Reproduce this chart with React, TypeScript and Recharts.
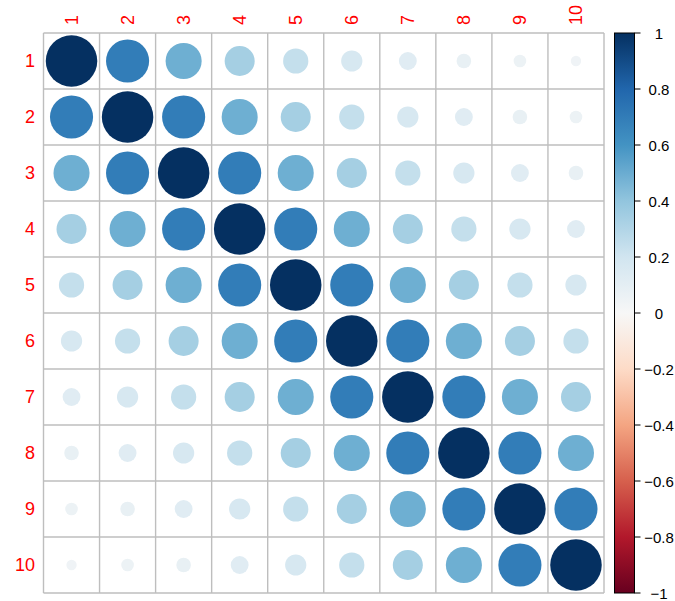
import React from 'react'
import {
  ScatterChart,
  Scatter,
  XAxis,
  YAxis,
  ReferenceLine,
} from 'recharts'

// variable names (rows and columns)
const variables = ['1', '2', '3', '4', '5', '6', '7', '8', '9', '10']

// correlation matrix
const corrRows: number[][] = [
  [1.0, 0.7, 0.49, 0.34, 0.24, 0.17, 0.12, 0.08, 0.06, 0.04],
  [0.7, 1.0, 0.7, 0.49, 0.34, 0.24, 0.17, 0.12, 0.08, 0.06],
  [0.49, 0.7, 1.0, 0.7, 0.49, 0.34, 0.24, 0.17, 0.12, 0.08],
  [0.34, 0.49, 0.7, 1.0, 0.7, 0.49, 0.34, 0.24, 0.17, 0.12],
  [0.24, 0.34, 0.49, 0.7, 1.0, 0.7, 0.49, 0.34, 0.24, 0.17],
  [0.17, 0.24, 0.34, 0.49, 0.7, 1.0, 0.7, 0.49, 0.34, 0.24],
  [0.12, 0.17, 0.24, 0.34, 0.49, 0.7, 1.0, 0.7, 0.49, 0.34],
  [0.08, 0.12, 0.17, 0.24, 0.34, 0.49, 0.7, 1.0, 0.7, 0.49],
  [0.06, 0.08, 0.12, 0.17, 0.24, 0.34, 0.49, 0.7, 1.0, 0.7],
  [0.04, 0.06, 0.08, 0.12, 0.17, 0.24, 0.34, 0.49, 0.7, 1.0],
]

const legendTicks = [1, 0.8, 0.6, 0.4, 0.2, 0, -0.2, -0.4, -0.6, -0.8, -1]

// RdBu palette from -1 to 1
const rdbu = [
  '#67001F', '#B2182B', '#D6604D', '#F4A582', '#FDDBC7', '#F7F7F7',
  '#D1E5F0', '#92C5DE', '#4393C3', '#2166AC', '#053061',
]

const W = 675
const H = 601
const left = 43.5
const top = 33
const right = 604
const bottom = 593
const cell = (bottom - top) / variables.length

const boundaries = Array.from({ length: variables.length + 1 }, (_, i) => i + 0.5)

const data = corrRows.flatMap((row, i) =>
  row.map((r, j) => ({ x: j + 1, y: i + 1, r }))
)

function hexToRgb(h: string) {
  const n = parseInt(h.slice(1), 16)
  return [(n >> 16) & 255, (n >> 8) & 255, n & 255]
}

function colorFor(v: number) {
  const t = ((v + 1) / 2) * (rdbu.length - 1)
  const i = Math.min(Math.floor(t), rdbu.length - 2)
  const f = t - i
  const a = hexToRgb(rdbu[i])
  const b = hexToRgb(rdbu[i + 1])
  const c = a.map((x, k) => Math.round(x + (b[k] - x) * f))
  return `rgb(${c[0]},${c[1]},${c[2]})`
}

const fmt = (v: number) => {
  const s = Math.abs(v) < 1e-9 ? '0' : String(Math.abs(v))
  return v < -1e-9 ? '\u2212' + s : s
}

const CircleShape = (props: any) => {
  const { cx, cy, payload } = props
  if (cx == null || cy == null) return null
  const rad = Math.sqrt(Math.abs(payload.r)) * 0.46 * cell
  return <circle cx={cx} cy={cy} r={rad} fill={colorFor(payload.r)} />
}

const TopTick = (props: any) => {
  const { x, payload } = props
  const y = 25
  return (
    <text
      x={x}
      y={y}
      transform={`rotate(-90, ${x}, ${y})`}
      textAnchor="start"
      dominantBaseline="central"
      fill="#ff0000"
      fontSize={18}
      fontFamily="Liberation Sans, Arial, sans-serif"
    >
      {variables[payload.value - 1]}
    </text>
  )
}

const LeftTick = (props: any) => {
  const { y, payload } = props
  return (
    <text
      x={35}
      y={y}
      textAnchor="end"
      dominantBaseline="central"
      fill="#ff0000"
      fontSize={18}
      fontFamily="Liberation Sans, Arial, sans-serif"
    >
      {variables[payload.value - 1]}
    </text>
  )
}

function ColorLegend() {
  const x0 = 614.5
  const x1 = 634.5
  const scale = (v: number) => top + ((1 - v) / 2) * (bottom - top)
  return (
    <svg
      width={W}
      height={H}
      style={{ position: 'absolute', left: 0, top: 0, pointerEvents: 'none' }}
    >
      <defs>
        <linearGradient id="rdbu" x1="0" y1="1" x2="0" y2="0">
          {rdbu.map((c, i) => (
            <stop key={i} offset={`${(i / (rdbu.length - 1)) * 100}%`} stopColor={c} />
          ))}
        </linearGradient>
      </defs>
      <rect
        x={x0}
        y={top}
        width={x1 - x0}
        height={bottom - top}
        fill="url(#rdbu)"
        stroke="#000"
        strokeWidth={1}
      />
      {legendTicks.map((v) => (
        <g key={v}>
          <line x1={x1} x2={x1 + 6} y1={scale(v)} y2={scale(v)} stroke="#000" strokeWidth={1} />
          <text
            x={659}
            y={scale(v)}
            textAnchor="middle"
            dominantBaseline="central"
            fontSize={15}
            fill="#000"
            fontFamily="Liberation Sans, Arial, sans-serif"
          >
            {fmt(v)}
          </text>
        </g>
      ))}
    </svg>
  )
}

export default function App() {
  return (
    <div style={{ position: 'relative', width: W, height: H, background: '#fff' }}>
      <style>{`body{margin:0}`}</style>
      <ScatterChart
        width={W}
        height={H}
        margin={{ top: top - 1, right: W - right, bottom: H - bottom, left: left - 1 }}
      >
        <XAxis
          type="number"
          dataKey="x"
          orientation="top"
          domain={[0.5, 10.5]}
          ticks={variables.map((_, i) => i + 1)}
          interval={0}
          height={1}
          axisLine={false}
          tickLine={false}
          tick={<TopTick />}
          allowDataOverflow
        />
        <YAxis
          type="number"
          dataKey="y"
          domain={[0.5, 10.5]}
          reversed
          ticks={variables.map((_, i) => i + 1)}
          interval={0}
          width={1}
          axisLine={false}
          tickLine={false}
          tick={<LeftTick />}
          allowDataOverflow
        />
        {boundaries.map((b) => (
          <ReferenceLine key={`v${b}`} x={b} stroke="#bebebe" strokeWidth={1.4} ifOverflow="visible" />
        ))}
        {boundaries.map((b) => (
          <ReferenceLine key={`h${b}`} y={b} stroke="#bebebe" strokeWidth={1.4} ifOverflow="visible" />
        ))}
        <Scatter data={data} shape={<CircleShape />} isAnimationActive={false} />
      </ScatterChart>
      <ColorLegend />
    </div>
  )
}
